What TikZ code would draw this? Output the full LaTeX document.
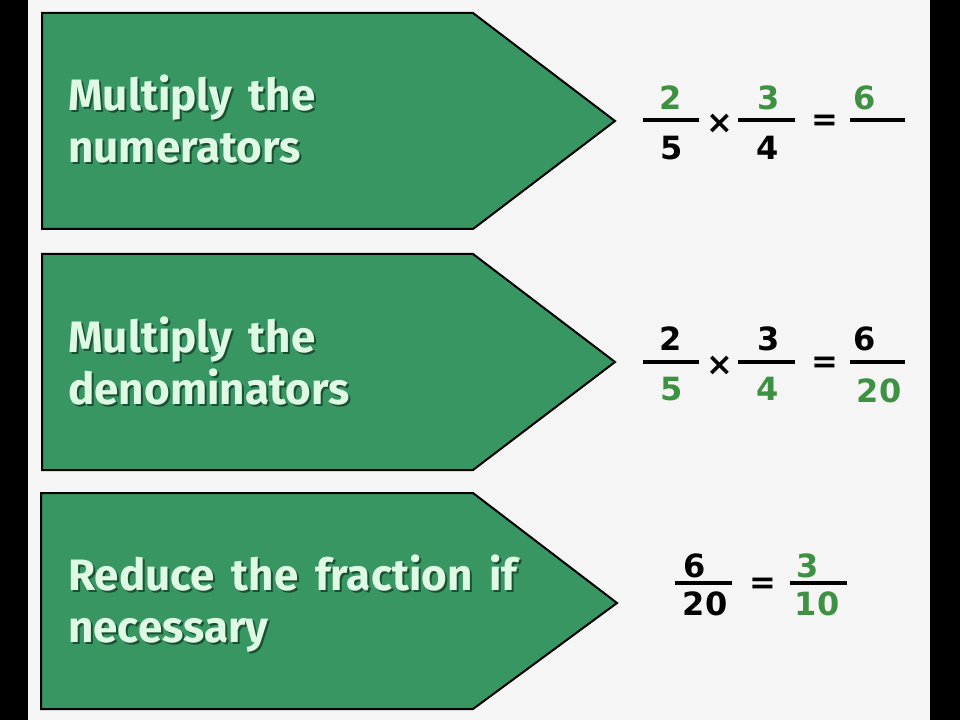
\documentclass[tikz,border=0pt]{standalone}
\usepackage{fontspec}
\setmainfont{Fira Sans}[WordSpace=1.6]
\newfontfamily\digitfont{DejaVu Sans}
\usepackage{xcolor}
\usepackage{tikz}

\definecolor{arrowgreen}{RGB}{56,150,98}
\definecolor{textmint}{RGB}{222,250,228}
\definecolor{shadowgreen}{RGB}{26,80,50}
\definecolor{digitgreen}{RGB}{62,145,66}
\definecolor{pagegray}{RGB}{245,245,245}

\tikzset{
  steparrow/.style={draw=black, line width=1.5, fill=arrowgreen},
  steptext/.style={anchor=west, inner sep=0pt, align=left, text=textmint, font=\fontsize{33}{39}\selectfont\bfseries},
  stepshadow/.style={steptext, text=shadowgreen},
  digit/.style={anchor=base, inner sep=0pt, font=\digitfont\fontsize{24}{24}\selectfont\bfseries},
  sign/.style={inner sep=0pt, font=\digitfont\fontsize{24}{24}\selectfont\bfseries},
  fracbar/.style={line width=2.5},
}

\begin{document}
\begin{tikzpicture}[x=0.75pt,y=0.75pt,yscale=-1,xscale=1]
\useasboundingbox (0,0) rectangle (960,720);

%Shape: black frame and page
\fill [black] (0,0) rectangle (960,720);
\fill [pagegray] (28,0) rectangle (930,720);

%Shape: Arrow 1 
\draw [steparrow] (42,13) -- (473,13) -- (615,121) -- (473,229) -- (42,229) -- cycle ;
%Shape: Arrow 2 
\draw [steparrow] (42,254) -- (473,254) -- (615,362) -- (473,470) -- (42,470) -- cycle ;
%Shape: Arrow 3 
\draw [steparrow] (41,493) -- (473,493) -- (617,603) -- (473,709) -- (41,709) -- cycle ;

% Text Node
\node [stepshadow] (numshadow) at (70,121) {Multiply the\\numerators};
\node [steptext] (numtext) at (68,119) {Multiply the\\numerators};
% Text Node
\node [stepshadow] (denshadow) at (70,363) {Multiply the\\denominators};
\node [steptext] (dentext) at (68,361) {Multiply the\\denominators};
% Text Node
\node [stepshadow] (redshadow) at (70,606) {Reduce the fraction if\\necessary};
\node [steptext] (redtext) at (68,604) {Reduce the fraction if\\necessary};

%Straight Lines: fraction bars, row 1
\draw [fracbar] (643,120) -- (699,120) ;
\draw [fracbar] (738,120) -- (795,120) ;
\draw [fracbar] (850,120) -- (905,120) ;
% Text Node
\node [digit, text=digitgreen] (anum) at (671,110) {2};
\node [digit] (aden) at (672,160) {5};
\node [sign] (atimes) at (720,124) {×};
\node [digit, text=digitgreen] (bnum) at (769,110) {3};
\node [digit] (bden) at (768,160) {4};
\node [sign] (aeq) at (825,123) {=};
\node [digit, text=digitgreen] (cnum) at (865,110) {6};

%Straight Lines: fraction bars, row 2
\draw [fracbar] (643,362) -- (699,362) ;
\draw [fracbar] (738,362) -- (795,362) ;
\draw [fracbar] (850,362) -- (905,362) ;
% Text Node
\node [digit] (dnum) at (671,350) {2};
\node [digit, text=digitgreen] (dden) at (672,400) {5};
\node [sign] (btimes) at (720,366) {×};
\node [digit] (enum) at (769,350) {3};
\node [digit, text=digitgreen] (eden) at (768,400) {4};
\node [sign] (beq) at (825,365) {=};
\node [digit] (fnum) at (865,350) {6};
\node [digit, text=digitgreen] (fden) at (879,402) {20};

%Straight Lines: fraction bars, row 3
\draw [fracbar] (675,583) -- (732,583) ;
\draw [fracbar] (790,583) -- (847,583) ;
% Text Node
\node [digit] (gnum) at (695,577) {6};
\node [digit] (gden) at (705,615) {20};
\node [sign] (ceq) at (763,586) {=};
\node [digit, text=digitgreen] (hnum) at (808,577) {3};
\node [digit, text=digitgreen] (hden) at (817,615) {10};

\end{tikzpicture}
\end{document}
